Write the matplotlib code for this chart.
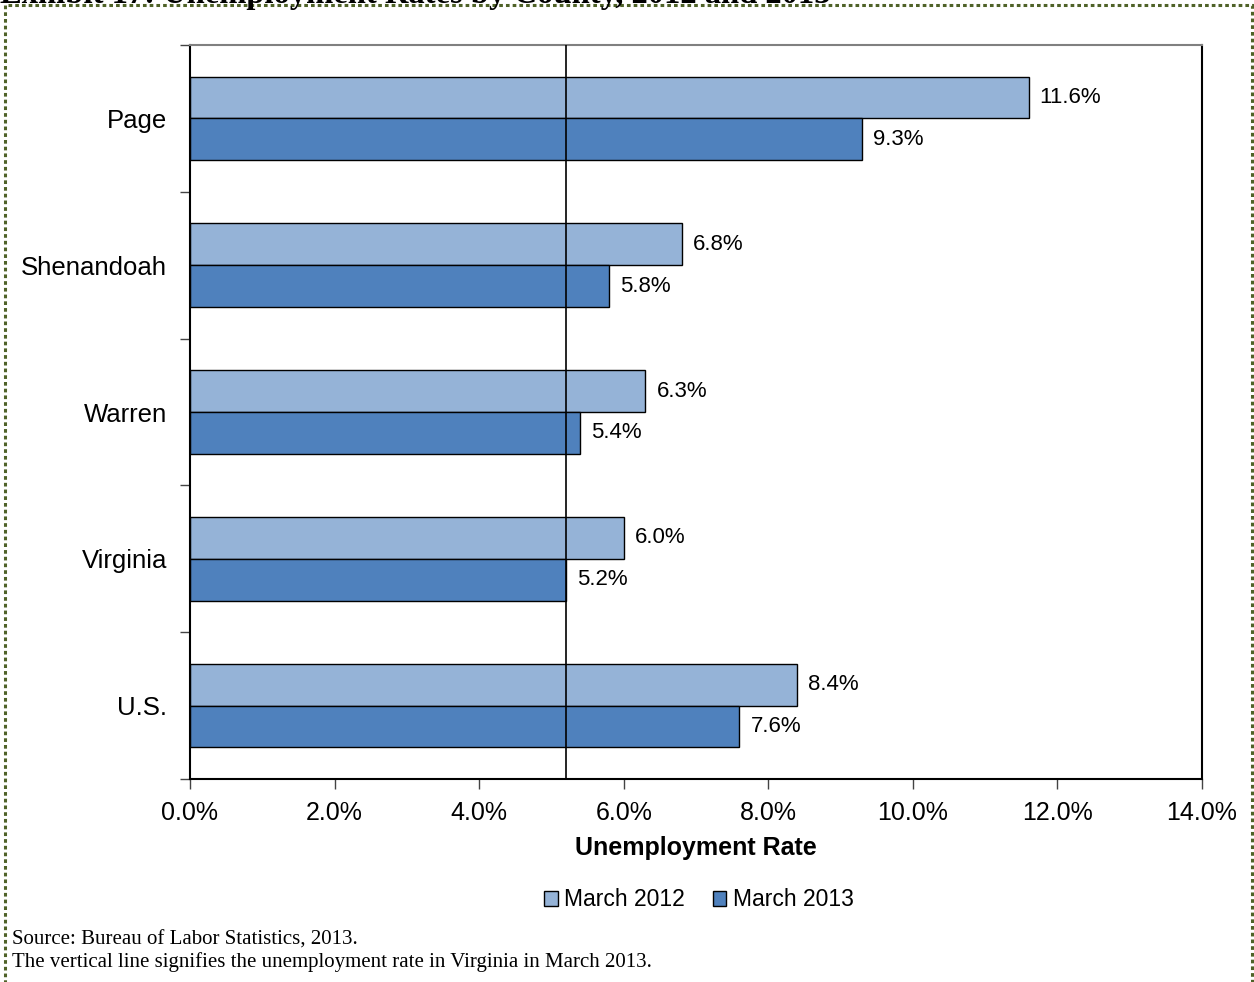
import matplotlib
matplotlib.use("Agg")
import matplotlib.pyplot as plt
from matplotlib.patches import Rectangle
import numpy as np

categories = ["Page", "Shenandoah", "Warren", "Virginia", "U.S."]
march_2012 = [11.6, 6.8, 6.3, 6.0, 8.4]
march_2013 = [9.3, 5.8, 5.4, 5.2, 7.6]
series_names = ["March 2012", "March 2013"]
virginia_line = 5.2
xticks = [0, 2, 4, 6, 8, 10, 12, 14]

c_light = "#95B3D7"
c_dark = "#4F81BD"
sans = "Liberation Sans"
serif = "Liberation Serif"

fig = plt.figure(figsize=(12.54, 9.82), dpi=100)
ax = fig.add_axes([190/1254, 1-779/982, (1202-190)/1254, (779-45)/982])

n = len(categories)
y = np.arange(n)
h = 0.285
ax.barh(y - h/2, march_2012, height=h, color=c_light, edgecolor="black", linewidth=1.0, label=series_names[0], zorder=2)
ax.barh(y + h/2, march_2013, height=h, color=c_dark, edgecolor="black", linewidth=1.0, label=series_names[1], zorder=2)

for yi, v in zip(y - h/2, march_2012):
    ax.annotate(f"{v:.1f}%", (v, yi), xytext=(8, 0), textcoords="offset points",
                va="center", ha="left", fontsize=16, family=sans)
for yi, v in zip(y + h/2, march_2013):
    ax.annotate(f"{v:.1f}%", (v, yi), xytext=(8, 0), textcoords="offset points",
                va="center", ha="left", fontsize=16, family=sans)

ax.axvline(virginia_line, color="black", linewidth=1.2, zorder=3)

ax.set_ylim(n - 0.5, -0.5)
ax.set_xlim(0, 14)
ax.set_xticks(xticks)
ax.set_xticklabels([f"{t:.1f}%" for t in xticks], fontsize=18, family=sans)
ax.set_yticks(y)
ax.set_yticklabels(categories, fontsize=18.5, family=sans)
ax.tick_params(axis="y", which="major", length=0, pad=16.5)
ax.set_yticks(np.arange(n + 1) - 0.5, minor=True)
ax.tick_params(axis="y", which="minor", length=7, width=1, direction="out", color="#444444")
ax.tick_params(axis="x", length=7, width=1, direction="out", pad=9, color="#444444")
ax.set_xlabel("Unemployment Rate", fontsize=18, fontweight="bold", family=sans, labelpad=8)

for s in ["left", "right", "bottom"]:
    ax.spines[s].set_color("black")
    ax.spines[s].set_linewidth(1.5)
ax.spines["top"].set_color("#808080")
ax.spines["top"].set_linewidth(1.5)

leg = fig.legend(loc="center", bbox_to_anchor=(699/1254, 1-900/982), ncol=2, frameon=False,
                 prop={"family": sans, "size": 16.5}, handlelength=0.6, handleheight=0.6,
                 handletextpad=0.3, columnspacing=1.2)

fig.text(12/1254, 1-940/982, "Source: Bureau of Labor Statistics, 2013.", family=serif, fontsize=15,
         va="center", ha="left")
fig.text(12/1254, 1-962/982, "The vertical line signifies the unemployment rate in Virginia in March 2013.",
         family=serif, fontsize=15, va="center", ha="left")

# clipped title at top
fig.text(0/1254, 1-3/982, "Exhibit 17: Unemployment Rates by County, 2012 and 2013", family=serif,
         fontsize=23.5, fontweight="bold", va="baseline", ha="left")

# dotted border
border = Rectangle((5/1254, -0.05), (1252-5)/1254, 1-5/982 + 0.05, transform=fig.transFigure,
                   fill=False, edgecolor="#4F6228", linewidth=2.2, linestyle=(0, (1.2, 1.0)))
fig.patches.append(border)

fig.savefig("out.png", dpi=100)
